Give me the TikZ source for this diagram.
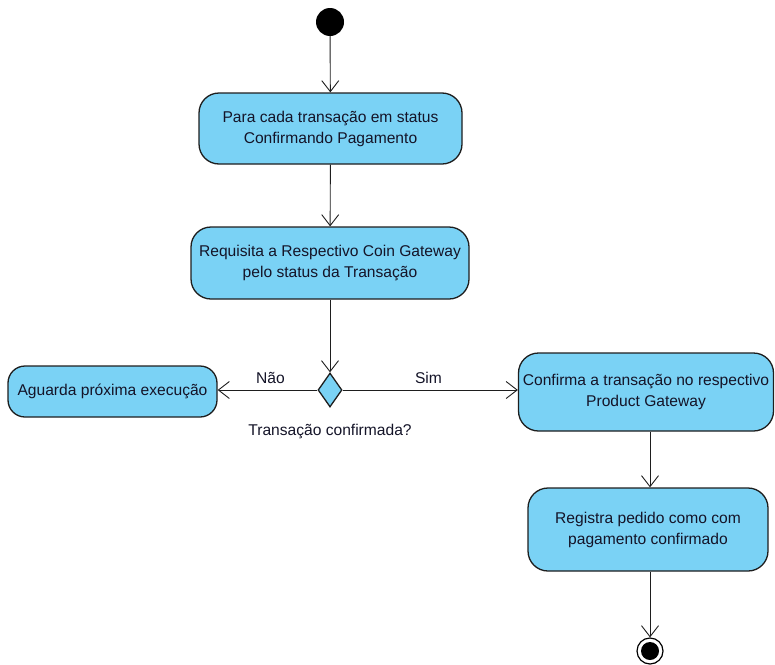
\documentclass[tikz,border=0pt]{standalone}
\usepackage{fontspec}
\setmainfont{Liberation Sans}
\usetikzlibrary{arrows.meta,shapes.geometric}
\definecolor{actfill}{RGB}{122,210,245}
\definecolor{edge}{RGB}{30,30,30}
\definecolor{txt}{RGB}{20,20,40}
\begin{document}
\begin{tikzpicture}[x=1pt,y=-1pt,
  font=\fontsize{15.6}{21}\selectfont,
  activity/.style={draw=edge,fill=actfill,line width=1.3pt,rounded corners=20pt,
    align=center,text=txt,inner sep=0pt},
  flow/.style={draw=edge,line width=0.9pt,-{Straight Barb[length=11pt,width=17pt,line width=0.9pt]}},
  lbl/.style={text=txt}]
\useasboundingbox (0,0) rectangle (775,664);

% initial node
\node[circle,fill=black,minimum size=28pt,inner sep=0pt] (start) at (330,22) {};

% actions
\node[activity,minimum width=263pt,minimum height=71pt] (loop) at (330.5,128.5)
  {Para cada transação em status\\Confirmando Pagamento};
\node[activity,minimum width=278pt,minimum height=72pt] (query) at (330,263)
  {Requisita a Respectivo Coin Gateway\\pelo status da Transação};
\node[activity,rounded corners=17pt,minimum width=209pt,minimum height=51pt] (wait) at (112.5,391.5)
  {Aguarda próxima execução};
\node[activity,minimum width=255pt,minimum height=78pt] (confirm) at (646,392)
  {Confirma a transação no respectivo\\Product Gateway};
\node[activity,minimum width=240pt,minimum height=83pt] (register) at (648,529.5)
  {Registra pedido como com\\pagamento confirmado};

% decision
\node[diamond,draw=edge,fill=actfill,line width=1.3pt,minimum width=24pt,minimum height=34pt,
  inner sep=0pt] (dec) at (330,390) {};
\node[lbl,anchor=north] (declbl) at (330,421) {Transação confirmada?};

% final node
\node[circle,draw=black,line width=1.2pt,fill=white,minimum size=26pt,inner sep=0pt] (end) at (650,651) {};
\node[circle,fill=black,minimum size=18pt,inner sep=0pt] (endin) at (end.center) {};

% control flow
\draw[flow] (start) -- (loop);
\draw[flow] (loop) -- (query);
\draw[flow] (query) -- (dec.north);
\draw[flow] (dec.west) -- node[lbl,above=3pt,pos=0.47] {Não} (dec.west -| wait.east);
\draw[flow] (dec.east) -- node[lbl,above=3pt,pos=0.49] {Sim} (dec.east -| confirm.west);
\draw[flow] (confirm.south -| end) -- (register.north -| end);
\draw[flow] (register.south -| end) -- (end.north);
\end{tikzpicture}
\end{document}
